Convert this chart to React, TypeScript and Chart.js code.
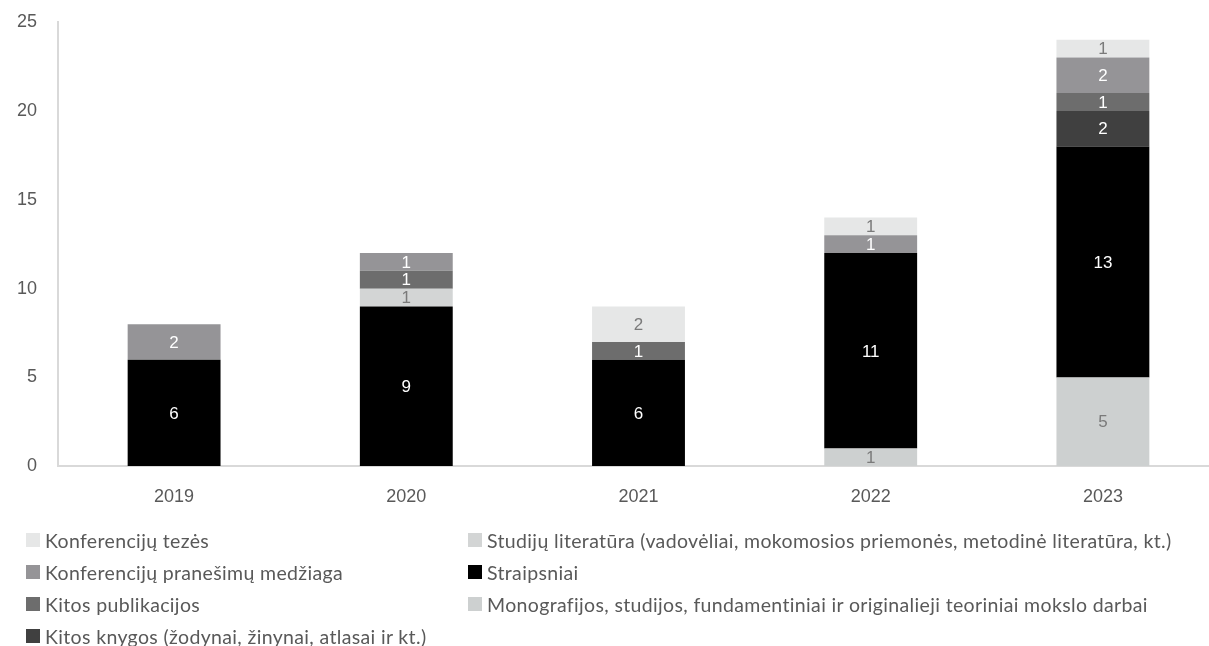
import React, { useEffect, useRef } from "react";
import { Chart, registerables } from "chart.js";

Chart.register(...registerables);

const years = ["2019", "2020", "2021", "2022", "2023"];

const monografijos = [0, 0, 0, 1, 5];
const straipsniai = [6, 9, 6, 11, 13];
const studiju = [0, 1, 0, 0, 0];
const kitosKnygos = [0, 0, 0, 0, 2];
const kitosPublikacijos = [0, 1, 1, 0, 1];
const konfPranesimu = [2, 1, 0, 1, 2];
const konfTezes = [0, 0, 2, 1, 1];

const yTicks = [0, 5, 10, 15, 20, 25];

const series = [
  { label: "Monografijos, studijos, fundamentiniai ir originalieji teoriniai mokslo darbai", data: monografijos, color: "#cdd0d0", text: "#7a7a7a" },
  { label: "Straipsniai", data: straipsniai, color: "#000000", text: "#ffffff" },
  { label: "Studijų literatūra (vadovėliai, mokomosios priemonės, metodinė literatūra, kt.)", data: studiju, color: "#d3d5d5", text: "#7a7a7a" },
  { label: "Kitos knygos (žodynai, žinynai, atlasai ir kt.)", data: kitosKnygos, color: "#404040", text: "#ffffff" },
  { label: "Kitos publikacijos", data: kitosPublikacijos, color: "#6d6d6d", text: "#ffffff" },
  { label: "Konferencijų pranešimų medžiaga", data: konfPranesimu, color: "#959497", text: "#ffffff" },
  { label: "Konferencijų tezės", data: konfTezes, color: "#e6e7e7", text: "#7a7a7a" },
];

// legend columns (column-major as in reference)
const legendCol1 = [6, 5, 4, 3];
const legendCol2 = [2, 1, 0];

const valueLabels = {
  id: "valueLabels",
  afterDatasetsDraw(chart: any) {
    const ctx = chart.ctx;
    ctx.save();
    ctx.font = "17px 'Liberation Sans', Arial, sans-serif";
    ctx.textAlign = "center";
    ctx.textBaseline = "middle";
    chart.data.datasets.forEach((ds: any, i: number) => {
      const meta = chart.getDatasetMeta(i);
      meta.data.forEach((el: any, j: number) => {
        const v = ds.data[j];
        if (!v) return;
        ctx.fillStyle = series[i].text;
        ctx.fillText(String(v), el.x, (el.y + el.base) / 2 + 1);
      });
    });
    ctx.restore();
  },
};

export default function App() {
  const ref = useRef<HTMLCanvasElement>(null);
  useEffect(() => {
    if (!ref.current) return;
    const chart = new Chart(ref.current, {
      type: "bar",
      data: {
        labels: years,
        datasets: series.map((s) => ({
          label: s.label,
          data: s.data.map((v) => (v === 0 ? null : v)),
          backgroundColor: s.color,
          borderWidth: 0,
          barPercentage: 0.8,
          categoryPercentage: 0.5,
        })),
      },
      options: {
        animation: false,
        responsive: false,
        maintainAspectRatio: false,
        layout: { padding: { top: 22, right: 11, bottom: 14, left: 0 } },
        plugins: { legend: { display: false }, tooltip: { enabled: false } },
        scales: {
          x: {
            stacked: true,
            grid: { display: true, drawOnChartArea: false, drawTicks: false },
            border: { color: "#d9d9d9", width: 2 },
            ticks: {
              padding: 20,
              color: "#595959",
              font: { family: "'Liberation Sans', Arial, sans-serif", size: 18 },
            },
          },
          y: {
            stacked: true,
            min: 0,
            max: 25,
            afterFit: (s: any) => {
              s.width = 58;
            },
            afterBuildTicks: (s: any) => {
              s.ticks = yTicks.map((v) => ({ value: v }));
            },
            grid: {
              display: true,
              drawOnChartArea: false,
              drawTicks: true,
              tickLength: 10,
              tickColor: "rgba(0,0,0,0)",
            },
            border: { color: "#d9d9d9", width: 2 },
            ticks: {
              padding: 11,
              color: "#595959",
              font: { family: "'Liberation Sans', Arial, sans-serif", size: 18 },
            },
          },
        },
      },
      plugins: [valueLabels],
    });
    return () => chart.destroy();
  }, []);

  const legendItem = (idx: number) => (
    <div
      key={idx}
      style={{ display: "flex", alignItems: "center", height: 32, whiteSpace: "nowrap" }}
    >
      <span
        style={{
          display: "inline-block",
          width: 14,
          height: 14,
          background: series[idx].color,
          marginRight: 5,
          flexShrink: 0,
        }}
      />
      <span>{series[idx].label}</span>
    </div>
  );

  const legendStyle: React.CSSProperties = {
    position: "absolute",
    top: 524,
    fontFamily: "Lato, 'Noto Sans', sans-serif",
    fontSize: 19.5,
    letterSpacing: 0.35,
    color: "#595959",
  };

  return (
    <div
      style={{
        position: "absolute",
        left: 0,
        top: 0,
        width: 1209,
        height: 646,
        overflow: "hidden",
        background: "#ffffff",
      }}
    >
      <canvas
        ref={ref}
        width={1230}
        height={542}
        style={{ position: "absolute", left: 0, top: 0, width: 1230, height: 542 }}
      />
      <div style={{ ...legendStyle, left: 26 }}>{legendCol1.map(legendItem)}</div>
      <div style={{ ...legendStyle, left: 468 }}>{legendCol2.map(legendItem)}</div>
    </div>
  );
}
